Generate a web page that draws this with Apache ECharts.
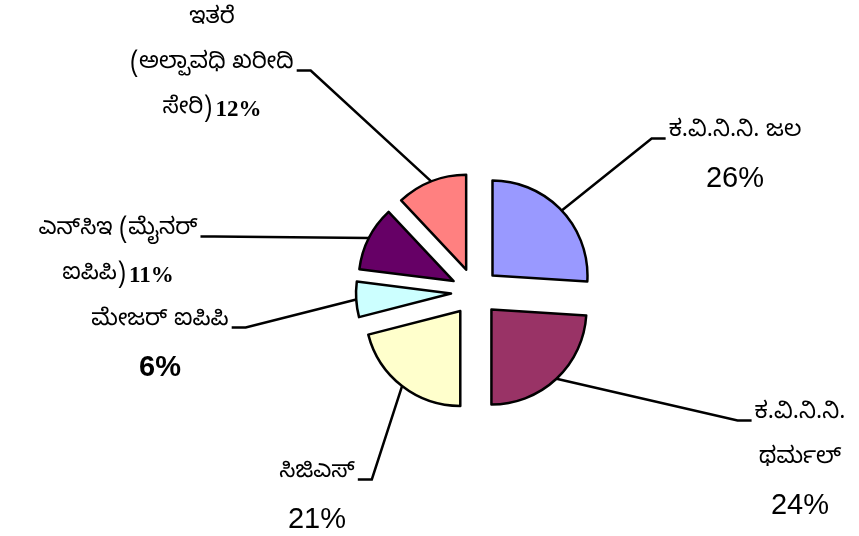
<!DOCTYPE html>
<html>
<head>
<meta charset="utf-8">
<script src="https://cdn.jsdelivr.net/npm/echarts@6/dist/echarts.min.js"></script>
<style>
  html, body { margin: 0; padding: 0; background: #fff; }
  #pie { width: 859px; height: 536px; }
</style>
</head>
<body>
<div id="pie"></div>
<script>
// ಪಾಲು (ಶೇಕಡಾ), 12 ಗಂಟೆಯಿಂದ ಗಡಿಯಾರದ ದಿಕ್ಕಿನಲ್ಲಿ
var names = ['ಕ.ವಿ.ನಿ.ನಿ. ಜಲ', 'ಕ.ವಿ.ನಿ.ನಿ.\nಥರ್ಮಲ್', 'ಸಿಜಿಎಸ್', 'ಮೇಜರ್ ಐಪಿಪಿ', 'ಎನ್‌ಸಿಇ (ಮೈನರ್\nಐಪಿಪಿ)', 'ಇತರೆ\n(ಅಲ್ಪಾವಧಿ ಖರೀದಿ\nಸೇರಿ)'];
var values = [26, 24, 21, 6, 11, 12];
var colors = ['#9999ff', '#993366', '#ffffcc', '#ccffff', '#660066', '#ff8080'];

var kn = '"Noto Sans Kannada", "Noto Serif Kannada", Tunga, serif';

// ಲೇಬಲ್ ಸ್ಥಾನಗಳು: ಮಧ್ಯ x, ಮೇಲಿನ y, ಗೆರೆ ಸೇರುವ ಸಾಲು
var labelPos = [[735, 111, 0], [800, 393, 0], [317, 452, 0], [160, 300, 0], [118, 209, 0], [212, -2, 1]];
var lh = 45;

var cx = 475, cy = 292, offset = 24;

function fmt(p) {
  var lines = p.name.split('\n');
  var i = p.dataIndex;
  var txt = lines.map(function (l) { return '{k|' + l + '}'; });
  if (i >= 4) {
    txt[txt.length - 1] += ' {s|' + p.value + '%}';
  } else if (i == 3) {
    txt.push('{pb|' + p.value + '%}');
  } else {
    txt.push('{p|' + p.value + '%}');
  }
  return txt.join('\n');
}

var total = values.reduce(function (a, b) { return a + b; }, 0);

function layoutLabel(params) {
  var pos = labelPos[params.dataIndex];
  var res = { x: pos[0], y: pos[1], align: 'center', verticalAlign: 'top' };
  var pts = params.labelLinePoints;
  if (pts && pts.length) {
    var p0 = pts[0];
    var w = params.labelRect.width;
    var left = p0[0] < pos[0];
    var ex = left ? pos[0] - w / 2 - 3 : pos[0] + w / 2 + 3;
    var ey = pos[1] + pos[2] * lh + lh / 2 + 5;
    var bx = left ? ex - 14 : ex + 14;
    res.labelLinePoints = [[p0[0], p0[1]], [bx, ey], [ex, ey]];
  }
  return res;
}

// ಪ್ರತಿ ತುಂಡಿಗೆ ಒಂದು ಸರಣಿ, ಹೊರಕ್ಕೆ ಸರಿಸಿದ ಕೇಂದ್ರದೊಂದಿಗೆ
var series = [];
var acc = 0;
values.forEach(function (v, i) {
  var mid = (acc + v / 2) / total * 2 * Math.PI; // 12 ಗಂಟೆಯಿಂದ
  acc += v;
  series.push({
    type: 'pie',
    center: [cx + offset * Math.sin(mid), cy - offset * Math.cos(mid)],
    radius: 95,
    startAngle: 90,
    clockwise: true,
    silent: true,
    data: values.map(function (w, j) {
      if (j != i) {
        return { name: names[j], value: w, itemStyle: { color: 'rgba(0,0,0,0)', borderWidth: 0 }, label: { show: false }, labelLine: { show: false } };
      }
      return { name: names[j], value: w, itemStyle: { color: colors[j] } };
    }),
    itemStyle: { borderColor: '#000', borderWidth: 2.5 },
    label: {
      formatter: fmt,
      color: '#000',
      align: 'center',
      rich: {
        k: { fontFamily: kn, fontSize: 23, color: '#000', lineHeight: lh },
        p: { fontFamily: '"Liberation Sans", Arial, sans-serif', fontSize: 29, color: '#000', lineHeight: lh },
        pb: { fontFamily: '"Liberation Sans", Arial, sans-serif', fontSize: 29, fontWeight: 'bold', color: '#000', lineHeight: lh },
        s: { fontFamily: '"Liberation Serif", "Times New Roman", serif', fontSize: 23, fontWeight: 'bold', color: '#000', lineHeight: lh }
      }
    },
    labelLine: { show: true, length: 30, length2: 16, lineStyle: { color: '#000', width: 2.5 } },
    labelLayout: layoutLabel
  });
});

var myChart = echarts.init(document.getElementById('pie'));
var option = {
  backgroundColor: '#fff',
  animation: false,
  series: series
};
myChart.setOption(option);
</script>
</body>
</html>
